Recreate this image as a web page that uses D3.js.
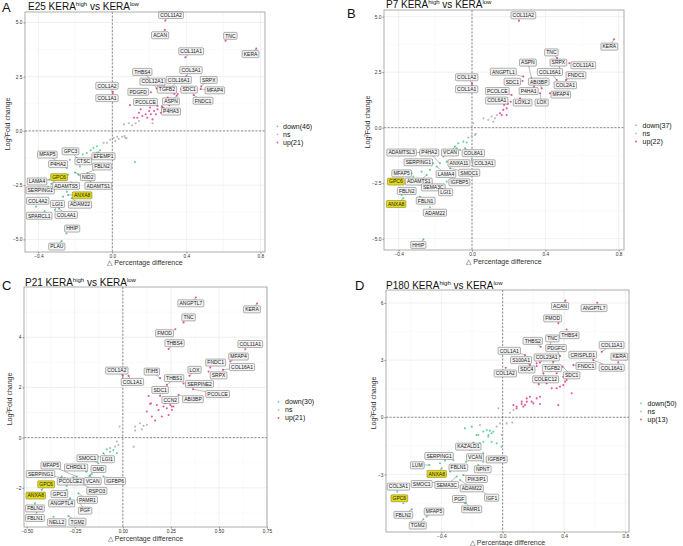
<!DOCTYPE html>
<html><head><meta charset="utf-8">
<script src="https://cdn.jsdelivr.net/npm/d3@7"></script>
<style>body{margin:0;background:#fff}svg{display:block;font-family:"Liberation Sans",Arial,sans-serif}</style>
</head><body><svg id="c" width="683" height="546"></svg>
<script>
// ---------------- DATA ----------------
const panelLetters = ["A","B","C","D"];
const panelStages = ["E25","P7","P21","P180"];
const downCounts = [46,37,30,50];
const upCounts = [21,22,21,13];

const xTicksA = [-0.4,0,0.4,0.8], yTicksA = [-5,-2.5,0,2.5,5];
const xTicksB = [-0.4,0,0.4,0.8], yTicksB = [-5,-2.5,0,2.5,5];
const xTicksC = [-0.5,-0.25,0,0.25,0.5,0.75], yTicksC = [-2,0,2,4];
const xTicksD = [-0.4,0,0.4,0.8], yTicksD = [-3,0,3,6];

// points: [Δ percentage difference, log2 fold change]
const upA = [[0.095,1.19],[0.117,0.61],[0.135,0.61],[0.144,0.84],[0.153,1.00],[0.162,0.69],[0.180,0.77],[0.189,0.61],[0.199,0.92],[0.204,1.08],[0.208,0.77],[0.217,0.53],[0.226,0.92],[0.235,0.77],[0.244,1.00],[0.262,0.84],[0.271,1.08],[0.281,1.47],[0.299,1.54],[0.308,1.19],[0.317,1.47],[0.335,1.70],[0.353,1.70]];
const nsA = [[0.062,0.30],[0.089,0.35],[0.107,0.26],[0.126,0.35],[0.144,0.46],[0.217,0.35],[0.026,-0.27],[0.066,-0.24],[0.077,-0.33],[-0.029,-0.55],[-0.011,-0.40],[0.007,-0.32],[0.016,-0.47],[0.035,-0.36],[0.053,-0.27],[0.071,-0.32],[-0.047,-0.55]];
const downA = [[-0.117,-0.89],[-0.102,-0.78],[-0.084,-0.71],[-0.075,-0.98],[-0.066,-0.89],[-0.056,-1.14],[-0.138,-1.02],[-0.160,-1.09],[-0.193,-1.25],[-0.230,-1.33],[-0.175,-1.64],[-0.239,-2.02],[-0.257,-2.18],[-0.357,-2.41],[-0.266,-3.03],[-0.246,-2.80],[0.122,-1.43]];
// labelled genes: [gene, x, y, label x, label y, highlighted]
const labUpA = [["COL11A2",0.286,5.09,0.317,5.34],["ACAN",0.284,4.66,0.258,4.41],["TNC",0.612,4.15,0.638,4.38],["KERA",0.778,3.79,0.747,3.54],["COL11A1",0.395,3.39,0.426,3.67],["COL3A1",0.40,2.52,0.425,2.80],["THBS4",0.255,2.0,0.162,2.72],["COL12A1",0.24,1.95,0.217,2.27],["COL16A1",0.317,2.0,0.359,2.35],["SRPX",0.48,2.05,0.521,2.35],["MFAP4",0.477,1.93,0.554,1.87],["SDC1",0.372,1.93,0.415,1.90],["TGFB2",0.282,2.05,0.295,1.90],["FNDC1",0.44,1.65,0.49,1.39],["ASPN",0.348,1.62,0.317,1.36],["PDGFD",0.208,1.78,0.14,1.80],["PCOLCE",0.244,1.15,0.179,1.33],["P4HA3",0.268,1.13,0.317,0.89],["COL1A2",0.002,1.80,-0.029,2.08],["COL1A1",0.002,1.73,-0.029,1.51]];
const labDownA = [["MFAP5",-0.266,-1.60,-0.351,-1.09],["GPC3",-0.166,-1.48,-0.226,-0.94],["P4HA2",-0.247,-1.71,-0.293,-1.53],["CTSC",-0.12,-1.45,-0.157,-1.40],["EFEMP1",-0.084,-1.01,-0.048,-1.17],["FBLN2",-0.135,-1.94,-0.056,-1.64],["NID2",-0.202,-1.92,-0.133,-2.13],["GPC6",-0.33,-2.44,-0.288,-2.13,1],["LAMA4",-0.34,-2.25,-0.407,-2.33],["SERPING1",-0.348,-2.57,-0.39,-2.74],["ADAMTS5",-0.22,-2.38,-0.25,-2.53],["ADAMTS1",-0.184,-2.02,-0.076,-2.53],["ANXA8",-0.239,-2.95,-0.163,-2.97,1],["ADAM22",-0.22,-3.1,-0.175,-3.40],["COL4A2",-0.412,-3.49,-0.403,-3.22],["LGI1",-0.311,-3.65,-0.296,-3.37],["SPARCL1",-0.366,-3.7,-0.395,-3.91],["COL4A1",-0.288,-3.57,-0.249,-3.87],["HHIP",-0.248,-4.73,-0.217,-4.50],["PLAU",-0.274,-5.07,-0.30,-5.33]];

const upB = [[0.153,0.65],[0.171,0.80],[0.189,0.87],[0.189,0.57],[0.162,0.57],[0.195,1.07],[0.211,1.17]];
const nsB = [[0.062,0.42],[0.089,0.35],[0.107,0.50],[0.125,0.42],[0.135,0.57],[0.116,0.27],[0.007,0.20],[-0.002,-0.38],[0.016,-0.33],[0.02,-0.28],[-0.02,-0.45]];
const downB = [[-0.075,-0.70],[-0.047,-0.63],[-0.029,-0.67],[-0.084,-0.93],[-0.065,-1.0],[-0.156,-1.30],[-0.129,-1.23],[-0.229,-1.90],[-0.275,-1.98],[-0.32,-2.2],[-0.356,-2.5],[-0.384,-3.03]];
const labUpB = [["COL11A2",0.256,4.82,0.28,5.06],["KERA",0.775,3.98,0.749,3.65],["TNC",0.464,3.14,0.433,3.39],["ASPN",0.325,2.22,0.305,2.93],["SRPX",0.48,2.6,0.471,2.93],["COL11A1",0.531,2.90,0.607,2.81],["ANGPTL1",0.28,2.30,0.171,2.52],["COL16A1",0.462,2.15,0.425,2.51],["FNDC1",0.513,2.15,0.567,2.36],["COL1A2",0.0,2.0,-0.029,2.27],["COL1A1",0.0,1.92,-0.029,1.73],["SDC1",0.276,2.10,0.22,2.07],["ABI3BP",0.38,1.77,0.364,2.07],["COL2A1",0.462,1.82,0.509,1.91],["PCOLCE",0.216,1.47,0.138,1.65],["P4HA1",0.338,1.85,0.309,1.65],["MFAP4",0.425,1.55,0.484,1.49],["COL6A1",0.175,1.02,0.135,1.22],["LOXL2",0.262,1.32,0.276,1.13],["LOX",0.371,1.55,0.38,1.13]];
const labDownB = [["ADAMTSL3",-0.284,-1.12,-0.384,-1.12],["P4HA2",-0.175,-1.60,-0.233,-1.12],["VCAN",-0.093,-0.85,-0.12,-1.12],["COL8A1",-0.038,-0.93,0.007,-1.15],["SERPING1",-0.211,-1.60,-0.293,-1.56],["ANXA11",-0.138,-1.53,-0.071,-1.60],["COL3A1",-0.002,-1.45,0.065,-1.60],["LAMA4",-0.193,-1.75,-0.142,-2.09],["SMOC1",-0.12,-1.83,-0.015,-2.03],["MFAP5",-0.329,-2.06,-0.384,-2.06],["ADAMTS1",-0.247,-2.13,-0.29,-2.43],["IGFBP5",-0.138,-2.43,-0.069,-2.46],["GPC6",-0.402,-2.36,-0.415,-2.43,1],["SEMA3C",-0.229,-2.51,-0.211,-2.69],["LGI1",-0.184,-2.73,-0.144,-2.91],["FBLN2",-0.393,-2.73,-0.356,-2.85],["FBLN1",-0.284,-3.11,-0.253,-3.29],["ANXA8",-0.375,-3.18,-0.414,-3.44,1],["ADAM22",-0.229,-3.59,-0.202,-3.83],["HHIP",-0.265,-5.03,-0.293,-5.28]];

const upC = [[0.134,1.66],[0.146,1.37],[0.22,1.37],[0.247,1.30],[0.255,1.24],[0.264,1.41],[0.142,1.34],[0.177,1.30],[0.186,1.10],[0.212,1.24],[0.229,1.17],[0.255,1.10],[0.203,0.84],[0.168,0.68],[0.125,1.04],[0.151,0.84],[0.238,0.90],[0.264,1.24]];
const nsC = [[-0.017,0.44],[0.064,0.44],[0.09,0.57],[0.108,0.47],[0.064,0.28],[0.099,0.33],[0.125,0.51],[-0.04,-0.36],[-0.023,-0.29],[0.056,-0.36],[-0.031,-0.16],[-0.066,-0.42]];
const downC = [[-0.083,-0.46],[-0.066,-0.56],[-0.049,-0.49],[-0.031,-0.62],[-0.127,-0.76],[-0.188,-1.35],[-0.174,-1.53],[-0.257,-1.58],[-0.318,-1.55]];
const labUpC = [["ANGPTL7",0.38,5.58,0.354,5.35],["KERA",0.698,5.34,0.672,5.11],["TNC",0.316,4.59,0.342,4.79],["FMOD",0.273,4.32,0.217,4.16],["THBS4",0.238,3.53,0.269,3.76],["COL11A1",0.637,3.52,0.663,3.73],["MFAP4",0.559,3.03,0.602,3.23],["FNDC1",0.455,2.79,0.483,2.99],["COL16A1",0.521,2.70,0.62,2.81],["COL1A2",0.0,2.46,-0.031,2.67],["COL1A1",0.03,2.46,0.05,2.22],["ITIH5",0.194,2.37,0.151,2.63],["LOX",0.347,2.46,0.373,2.70],["SRPX",0.446,2.63,0.498,2.48],["THBS1",0.229,2.10,0.267,2.37],["SERPINE2",0.316,2.16,0.399,2.14],["SDC1",0.194,1.66,0.194,1.90],["PCOLCE",0.365,1.93,0.493,1.74],["CCN2",0.212,1.57,0.247,1.50],["ABI3BP",0.29,1.70,0.365,1.53]];
const labDownC = [["SMOC1",-0.127,-1.02,-0.184,-0.82],["LGI1",-0.101,-0.62,-0.08,-0.86],["MFAP5",-0.24,-1.55,-0.375,-1.11],["CHRDL1",-0.191,-1.35,-0.243,-1.19],["OMD",-0.161,-1.45,-0.127,-1.25],["SERPING1",-0.30,-1.62,-0.428,-1.45],["PCOLCE2",-0.292,-1.92,-0.272,-1.75],["VCAN",-0.17,-1.49,-0.157,-1.73],["IGFBP6",-0.101,-1.55,-0.04,-1.73],["GPC6",-0.422,-2.08,-0.399,-1.86,1],["RSPO3",-0.222,-1.82,-0.135,-2.12],["GPC3",-0.292,-2.08,-0.33,-2.25],["ANXA8",-0.413,-2.28,-0.453,-2.31,1],["PAMR1",-0.231,-2.22,-0.184,-2.48],["ANGPTL4",-0.274,-2.42,-0.318,-2.62],["FBLN2",-0.457,-2.62,-0.457,-2.82],["PGF",-0.236,-2.48,-0.196,-2.91],["FBLN1",-0.448,-2.95,-0.457,-3.20],["NELL2",-0.361,-3.15,-0.344,-3.37],["TGM2",-0.283,-3.12,-0.236,-3.35]];

const upD = [[0.235,1.74],[0.287,1.78],[0.32,1.52],[0.352,1.52],[0.374,1.61],[0.396,1.69],[0.407,1.87],[0.417,1.96],[0.157,0.99],[0.178,1.08],[0.189,0.82],[0.222,0.99],[0.243,1.08],[0.124,0.82],[0.146,0.64],[0.07,0.64],[0.091,0.56],[0.363,0.64],[0.124,0.70],[0.157,0.82],[0.2,0.73],[0.243,0.70],[0.091,0.47],[0.135,0.56],[0.395,2.13],[0.352,2.31],[0.45,1.26],[0.222,2.83]];
const nsD = [[0.048,0.24],[0.07,0.38],[0.026,-0.32],[0.063,-0.28],[-0.017,-0.32],[-0.039,-0.49],[-0.007,-0.93],[-0.148,-0.41],[-0.028,0.47]];
const downD = [[-0.246,-0.58],[-0.202,-0.49],[-0.17,-0.93],[-0.126,-0.75],[-0.104,-0.67],[-0.083,-0.70],[-0.072,-0.84],[-0.061,-0.75],[-0.093,-0.93],[-0.126,-1.28],[-0.148,-1.37],[-0.18,-2.15],[-0.126,-2.33],[-0.376,-2.27],[-0.343,-2.85],[-0.007,-1.54],[-0.159,-0.93],[-0.094,-1.02],[-0.072,-1.28],[-0.039,-1.36],[-0.213,-1.71],[-0.127,-1.89],[-0.409,-2.41]];
const labUpD = [["ACAN",0.409,6.12,0.374,5.84],["ANGPTL7",0.617,6.01,0.596,5.73],["FMOD",0.363,4.93,0.326,5.19],["THBS4",0.417,4.61,0.435,4.31],["THBS2",0.248,3.70,0.196,4.01],["TNC",0.309,3.79,0.324,4.14],["COL11A1",0.646,3.44,0.711,3.79],["PDGFC",0.374,3.21,0.348,3.63],["COL1A1",0.146,3.27,0.043,3.49],["CRISPLD1",0.439,3.27,0.522,3.28],["KERA",0.754,2.88,0.761,3.18],["COL23A1",0.243,2.87,0.287,3.14],["S100A1",0.178,2.74,0.12,3.0],["FNDC1",0.461,2.74,0.543,2.69],["COL16A1",0.591,3.0,0.711,2.60],["SDC4",0.222,2.69,0.157,2.51],["TGFB2",0.33,2.92,0.322,2.58],["COL1A2",0.02,2.60,0.017,2.30],["SDC1",0.391,2.65,0.45,2.20],["COLEC12",0.265,2.31,0.28,1.99]];
const labDownD = [["KAZALD1",-0.191,-1.33,-0.224,-1.54],["SERPING1",-0.322,-2.24,-0.415,-2.03],["LUM",-0.478,-2.50,-0.557,-2.52],["VCAN",-0.239,-2.33,-0.18,-2.10],["IGFBP5",-0.104,-2.33,-0.039,-2.21],["FBLN1",-0.257,-2.50,-0.289,-2.64],["NPNT",-0.159,-2.50,-0.13,-2.73],["ANXA8",-0.398,-2.68,-0.43,-2.97,1],["SMOC1",-0.42,-3.38,-0.528,-3.50],["SEMA3C",-0.30,-3.11,-0.365,-3.55],["PIK3IP1",-0.257,-3.03,-0.17,-3.24],["ADAM22",-0.278,-3.29,-0.202,-3.73],["COL3A1",-0.687,-3.90,-0.68,-3.64],["IGF1",-0.148,-3.81,-0.072,-4.22],["GPC6",-0.648,-4.51,-0.674,-4.25,1],["PGF",-0.246,-4.51,-0.283,-4.29],["PAMR1",-0.239,-4.51,-0.202,-4.83],["FBLN2",-0.593,-4.83,-0.648,-5.12],["MFAP5",-0.496,-5.21,-0.448,-4.95],["TGM2",-0.517,-5.35,-0.554,-5.68]];

// ---------------- LAYOUT ----------------
const COL = {up:"#e8559a", ns:"#b9b9b9", down:"#6ccd9d"};
const f1 = d3.format(".1f"), f2 = d3.format(".2f"), f0 = v => d3.format("d")(v);
const layouts = [
  {x0:25,x1:265,y0:12,y1:252,xd:[-0.472,0.825],yd:[-5.58,5.48],xt:xTicksA,yt:yTicksA,xf:f1,yf:f1,
   lt:[2,12],tt:[28,9.5],ylx:10,xlb:265,leg:{mx:277.5,tx:283,y0:128.5,dy:8.1},
   up:upA,ns:nsA,down:downA,lu:labUpA,ld:labDownA},
  {x0:384,x1:624,y0:10,y1:250,xd:[-0.48,0.829],yd:[-5.51,5.30],xt:xTicksB,yt:yTicksB,xf:f1,yf:f1,
   lt:[347,18],tt:[386,8],ylx:370,xlb:264,leg:{mx:636,tx:642.5,y0:127.5,dy:8.1},
   up:upB,ns:nsB,down:downB,lu:labUpB,ld:labDownB},
  {x0:24,x1:267,y0:287,y1:527,xd:[-0.514,0.75],yd:[-3.56,6.0],xt:xTicksC,yt:yTicksC,xf:f2,yf:f0,
   lt:[2,290],tt:[25,286],ylx:12,xlb:541,leg:{mx:278.5,tx:285,y0:404,dy:8.1},
   up:upC,ns:nsC,down:downC,lu:labUpC,ld:labDownC},
  {x0:386,x1:629,y0:290,y1:532,xd:[-0.761,0.824],yd:[-6.02,6.68],xt:xTicksD,yt:yTicksD,xf:f1,yf:f0,
   lt:[355,290],tt:[386,289],ylx:376,xlb:545.3,leg:{mx:641,tx:647.5,y0:405.5,dy:8.1},
   up:upD,ns:nsD,down:downD,lu:labUpD,ld:labDownD}
];

const svg = d3.select("#c");
svg.append("rect").attr("width",683).attr("height",546).attr("fill","#fff");

function minorOf(t, dom){
  const s = t[1]-t[0];
  return [t[0]-s/2, ...t.map(v=>v+s/2)].filter(v=>v>dom[0]&&v<dom[1]);
}

layouts.forEach((p,i)=>{
  const g = svg.append("g");
  const x = d3.scaleLinear().domain(p.xd).range([p.x0,p.x1]);
  const y = d3.scaleLinear().domain(p.yd).range([p.y1,p.y0]);
  // grid
  const grid = g.append("g");
  minorOf(p.xt,p.xd).forEach(v=>grid.append("line").attr("x1",x(v)).attr("x2",x(v)).attr("y1",p.y0).attr("y2",p.y1).attr("stroke","#f2f2f2").attr("stroke-width",0.4));
  minorOf(p.yt,p.yd).forEach(v=>grid.append("line").attr("y1",y(v)).attr("y2",y(v)).attr("x1",p.x0).attr("x2",p.x1).attr("stroke","#f2f2f2").attr("stroke-width",0.4));
  p.xt.forEach(v=>grid.append("line").attr("x1",x(v)).attr("x2",x(v)).attr("y1",p.y0).attr("y2",p.y1).attr("stroke","#e6e6e6").attr("stroke-width",0.6));
  p.yt.forEach(v=>grid.append("line").attr("y1",y(v)).attr("y2",y(v)).attr("x1",p.x0).attr("x2",p.x1).attr("stroke","#e6e6e6").attr("stroke-width",0.6));
  // zero lines
  g.append("line").attr("x1",x(0)).attr("x2",x(0)).attr("y1",p.y0).attr("y2",p.y1).attr("stroke","#444").attr("stroke-width",0.6).attr("stroke-dasharray","2,1.6");
  g.append("line").attr("y1",y(0)).attr("y2",y(0)).attr("x1",p.x0).attr("x2",p.x1).attr("stroke","#444").attr("stroke-width",0.6).attr("stroke-dasharray","2,1.6");
  // points
  const pts = g.append("g");
  const drawPts = (arr,c)=>pts.selectAll(null).data(arr).enter().append("circle")
      .attr("cx",d=>x(d[0])).attr("cy",d=>y(d[1])).attr("r",1.05).attr("fill",c);
  drawPts(p.ns,COL.ns);
  drawPts(p.down,COL.down); drawPts(p.ld.map(d=>[d[1],d[2]]),COL.down);
  drawPts(p.up,COL.up); drawPts(p.lu.map(d=>[d[1],d[2]]),COL.up);
  // labels
  const segL = g.append("g"), labL = g.append("g");
  [...p.lu,...p.ld].forEach(d=>{
    const cx = x(d[3]), cy = y(d[4]), px = x(d[1]), py = y(d[2]);
    const lg = labL.append("g");
    const r = lg.append("rect");
    const t = lg.append("text").attr("x",cx).attr("y",cy).attr("dy","0.36em").attr("text-anchor","middle")
      .attr("font-size",5).attr("fill","#1a1a1a").text(d[0]);
    const w = t.node().getComputedTextLength()+3.2, h = 7;
    r.attr("x",cx-w/2).attr("y",cy-h/2).attr("width",w).attr("height",h).attr("rx",1)
     .attr("fill",d[5]?"#e2da1c":"#f3f3f3").attr("stroke",d[5]?"#6b6610":"#555").attr("stroke-width",0.45);
    const dx = px-cx, dy = py-cy;
    if (Math.abs(dx) > w/2+1 || Math.abs(dy) > h/2+1) {
      const s = Math.min(dx===0?Infinity:(w/2)/Math.abs(dx), dy===0?Infinity:(h/2)/Math.abs(dy));
      const sx = cx+dx*s, sy = cy+dy*s;
      if (Math.hypot(px-sx,py-sy) > 2.5)
        segL.append("line").attr("x1",sx).attr("y1",sy).attr("x2",px).attr("y2",py).attr("stroke","#666").attr("stroke-width",0.45);
    }
  });
  // border
  g.append("rect").attr("x",p.x0).attr("y",p.y0).attr("width",p.x1-p.x0).attr("height",p.y1-p.y0)
    .attr("fill","none").attr("stroke","#9a9a9a").attr("stroke-width",0.8);
  // axes
  const ax = g.append("g").attr("transform",`translate(0,${p.y1})`)
    .call(d3.axisBottom(x).tickValues(p.xt).tickFormat(p.xf).tickSize(1.6).tickPadding(0.6));
  const ay = g.append("g").attr("transform",`translate(${p.x0},0)`)
    .call(d3.axisLeft(y).tickValues(p.yt).tickFormat(p.yf).tickSize(1.6).tickPadding(0.9));
  [ax,ay].forEach(a=>{
    a.select(".domain").remove();
    a.attr("font-size",4.8).attr("font-family",null);
    a.selectAll("line").attr("stroke","#444").attr("stroke-width",0.5);
    a.selectAll("text").attr("fill","#333");
  });
  // axis titles
  const yl = svg.append("text").attr("transform",`translate(${p.ylx},${(p.y0+p.y1)/2-8}) rotate(-90)`)
    .attr("text-anchor","middle").attr("font-size",7).attr("fill","#333");
  yl.append("tspan").text("Log");
  yl.append("tspan").attr("font-size",4.5).attr("dy",-2.5).text("2");
  yl.append("tspan").attr("dy",2.5).text("Fold change");
  svg.append("text").attr("x",(p.x0+p.x1)/2).attr("y",p.xlb).attr("text-anchor","middle")
    .attr("font-size",7).attr("fill","#333").text("\u25B3 Percentage difference");
  // title
  svg.append("text").attr("x",p.lt[0]).attr("y",p.lt[1]).attr("font-size",13).attr("fill","#111").text(panelLetters[i]);
  const tt = svg.append("text").attr("x",p.tt[0]).attr("y",p.tt[1]).attr("font-size",10).attr("fill","#111");
  tt.append("tspan").text(panelStages[i]+" KERA");
  tt.append("tspan").attr("font-size",6).attr("dy",-3.6).text("high");
  tt.append("tspan").attr("dy",3.6).text(" vs KERA");
  tt.append("tspan").attr("font-size",6).attr("dy",-3.6).text("low");
  // legend
  const L = p.leg;
  const items = [["down("+downCounts[i]+")",COL.down],["ns",COL.ns],["up("+upCounts[i]+")",COL.up]];
  items.forEach((it,k)=>{
    const by = L.y0 + k*L.dy;
    svg.append("circle").attr("cx",L.mx).attr("cy",by-2.2).attr("r",0.9).attr("fill",it[1]);
    svg.append("text").attr("x",L.tx).attr("y",by).attr("font-size",7).attr("fill","#111").text(it[0]);
  });
});
</script></body></html>
